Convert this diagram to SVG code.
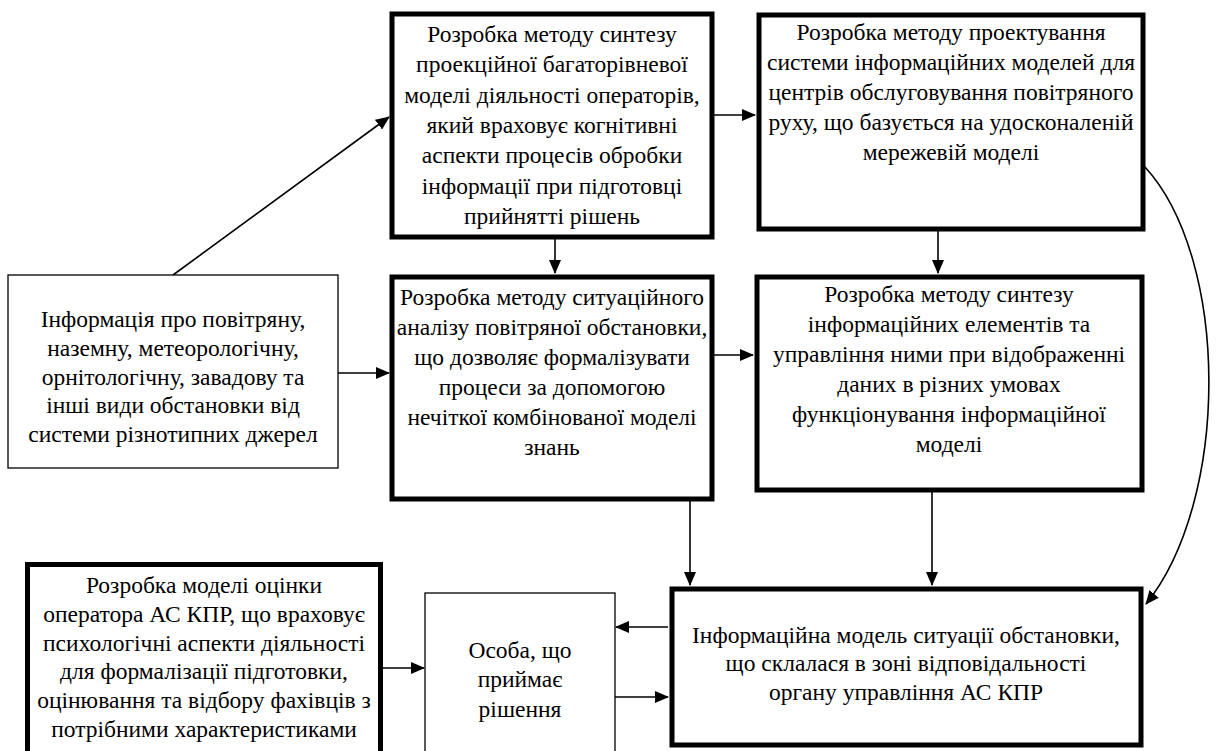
<svg xmlns="http://www.w3.org/2000/svg" width="1217" height="751" viewBox="0 0 1217 751">
  <style>
    .thick { fill: #fff; stroke: #000; stroke-width: 5; }
    .thin { fill: #fff; stroke: #000; stroke-width: 1.3; }
    .lbl { font-family: "Liberation Serif", "Times New Roman", serif; font-size: 23.5px; fill: #000; text-anchor: middle; }
    .edge { fill: none; stroke: #000; stroke-width: 1.6; marker-end: url(#arr); }
  </style>
  <defs>
    <marker id="arr" markerUnits="userSpaceOnUse" markerWidth="14" markerHeight="12" refX="13" refY="6" orient="auto">
      <path d="M0,0 L14,6 L0,12 Z" fill="#000"/>
    </marker>
  </defs>
  <rect width="1217" height="751" fill="#fff"/>

  <g id="connectors">
    <line class="edge" x1="173" y1="275" x2="389" y2="117"/>
    <line class="edge" x1="338" y1="373" x2="389" y2="373"/>
    <line class="edge" x1="713" y1="115" x2="755" y2="115"/>
    <line class="edge" x1="555" y1="238" x2="555" y2="273"/>
    <line class="edge" x1="938" y1="231" x2="938" y2="273"/>
    <line class="edge" x1="713" y1="355" x2="753" y2="355"/>
    <line class="edge" x1="690" y1="500" x2="690" y2="585"/>
    <line class="edge" x1="932" y1="492" x2="932" y2="585"/>
    <path class="edge" d="M1145,167 C1230,260 1230,500 1146,604"/>
    <line class="edge" x1="382" y1="668" x2="424" y2="668"/>
    <line class="edge" x1="668" y1="627" x2="616" y2="627"/>
    <line class="edge" x1="615" y1="697" x2="668" y2="697"/>
  </g>

  <g id="node-info">
    <rect class="thin" x="8" y="275" width="330" height="193"/>
    <text class="lbl" x="173" y="327">Інформація про повітряну,</text>
    <text class="lbl" x="173" y="356">наземну, метеорологічну,</text>
    <text class="lbl" x="173" y="385">орнітологічну, завадову та</text>
    <text class="lbl" x="173" y="413">інші види обстановки від</text>
    <text class="lbl" x="173" y="442">системи різнотипних джерел</text>
  </g>

  <g id="node-projection">
    <rect class="thick" x="392" y="14" width="320" height="223"/>
    <text class="lbl" x="552" y="42">Розробка методу синтезу</text>
    <text class="lbl" x="552" y="72">проекційної багаторівневої</text>
    <text class="lbl" x="552" y="103">моделі діяльності операторів,</text>
    <text class="lbl" x="552" y="133">який враховує когнітивні</text>
    <text class="lbl" x="552" y="163">аспекти процесів обробки</text>
    <text class="lbl" x="552" y="194">інформації при підготовці</text>
    <text class="lbl" x="552" y="224">прийнятті рішень</text>
  </g>

  <g id="node-design">
    <rect class="thick" x="759" y="15" width="384" height="214"/>
    <text class="lbl" x="951" y="40">Розробка методу проектування</text>
    <text class="lbl" x="951" y="70">системи інформаційних моделей для</text>
    <text class="lbl" x="951" y="100">центрів обслуговування повітряного</text>
    <text class="lbl" x="951" y="130">руху, що базується на удосконаленій</text>
    <text class="lbl" x="951" y="160">мережевій моделі</text>
  </g>

  <g id="node-analysis">
    <rect class="thick" x="392" y="277" width="320" height="222"/>
    <text class="lbl" x="552" y="305">Розробка методу ситуаційного</text>
    <text class="lbl" x="552" y="335">аналізу повітряної обстановки,</text>
    <text class="lbl" x="552" y="365">що дозволяє формалізувати</text>
    <text class="lbl" x="552" y="395">процеси за допомогою</text>
    <text class="lbl" x="552" y="425">нечіткої комбінованої моделі</text>
    <text class="lbl" x="552" y="455">знань</text>
  </g>

  <g id="node-elements">
    <rect class="thick" x="757" y="277" width="385" height="213"/>
    <text class="lbl" x="949" y="302">Розробка методу синтезу</text>
    <text class="lbl" x="949" y="332">інформаційних елементів та</text>
    <text class="lbl" x="949" y="362">управління ними при відображенні</text>
    <text class="lbl" x="949" y="392">даних в різних умовах</text>
    <text class="lbl" x="949" y="422">функціонування інформаційної</text>
    <text class="lbl" x="949" y="452">моделі</text>
  </g>

  <g id="node-operator">
    <rect class="thick" x="27.5" y="564.5" width="353" height="200"/>
    <text class="lbl" x="204" y="593">Розробка моделі оцінки</text>
    <text class="lbl" x="204" y="622">оператора АС КПР, що  враховує</text>
    <text class="lbl" x="204" y="651">психологічні аспекти діяльності</text>
    <text class="lbl" x="204" y="679">для формалізації підготовки,</text>
    <text class="lbl" x="204" y="708">оцінювання та відбору фахівців з</text>
    <text class="lbl" x="204" y="737">потрібними характеристиками</text>
  </g>

  <g id="node-person">
    <rect class="thin" x="425" y="593" width="190" height="170"/>
    <text class="lbl" x="520" y="658">Особа, що</text>
    <text class="lbl" x="520" y="687">приймає</text>
    <text class="lbl" x="520" y="717">рішення</text>
  </g>

  <g id="node-situation">
    <rect class="thick" x="672" y="589" width="469" height="156"/>
    <text class="lbl" x="906" y="643">Інформаційна модель ситуації обстановки,</text>
    <text class="lbl" x="906" y="671">що склалася в зоні відповідальності</text>
    <text class="lbl" x="906" y="700">органу управління АС КПР</text>
  </g>
</svg>
